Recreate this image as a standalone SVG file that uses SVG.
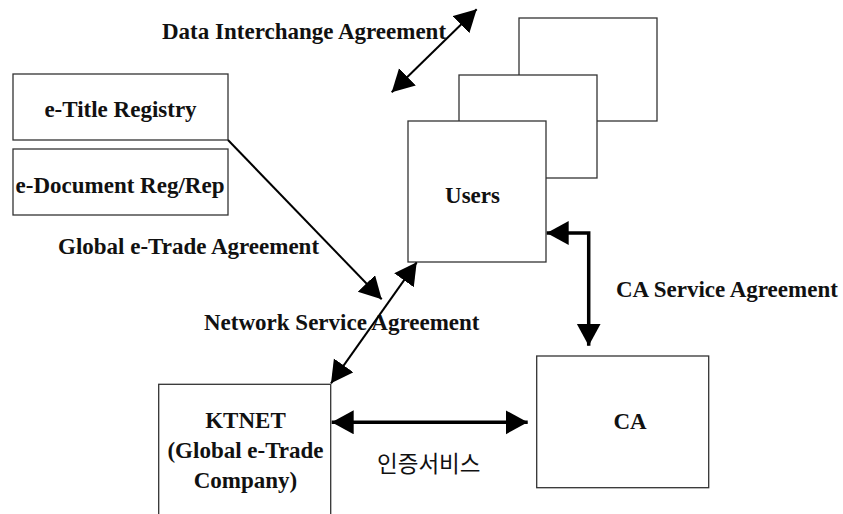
<svg xmlns="http://www.w3.org/2000/svg" width="843" height="514" viewBox="0 0 843 514">
<style>
.box{fill:#fff;stroke:#333;stroke-width:1.3}
.t{font-family:"Liberation Serif","Times New Roman",serif;font-weight:bold;font-size:23px;fill:#111}
.k{font-family:"Noto Sans CJK KR","Noto Sans",sans-serif;font-size:22.5px;fill:#111}
.c{fill:none;stroke:#000}
.thin{stroke-width:2}
.thick{stroke-width:3.5}
</style>
<defs>
<marker id="ah" markerUnits="userSpaceOnUse" markerWidth="26" markerHeight="26" refX="22" refY="12" orient="auto-start-reverse" viewBox="0 0 26 26">
<path d="M0,0 L22,12 L0,24 z" fill="#000"/>
</marker>
</defs>
<rect width="843" height="514" fill="#fff"/>
<g id="etitle"><rect class="box" x="13" y="74" width="215" height="66"/><text class="t" x="120.5" y="116.5" text-anchor="middle">e-Title Registry</text></g>
<g id="edoc"><rect class="box" x="13" y="149" width="215" height="66"/><text class="t" x="120" y="192.5" text-anchor="middle">e-Document Reg/Rep</text></g>
<g id="users">
<rect class="box" x="519" y="18" width="138" height="103"/>
<rect class="box" x="459" y="75" width="138" height="103"/>
<rect class="box" x="408" y="121" width="138" height="141"/>
<text class="t" x="472.5" y="203" text-anchor="middle">Users</text>
</g>
<g id="ktnet"><rect class="box" x="158.7" y="384.3" width="172" height="150"/>
<text class="t" x="245.5" y="428.3" text-anchor="middle">KTNET</text>
<text class="t" x="245.5" y="458.3" text-anchor="middle">(Global e-Trade</text>
<text class="t" x="245.5" y="488.3" text-anchor="middle">Company)</text></g>
<g id="ca"><rect class="box" x="536.7" y="356" width="172" height="131.7"/><text class="t" x="630" y="429" text-anchor="middle">CA</text></g>
<g id="labels">
<text class="t" x="162" y="39">Data Interchange Agreement</text>
<text class="t" x="58" y="254">Global e-Trade Agreement</text>
<text class="t" x="204" y="330">Network Service Agreement</text>
<text class="t" x="616" y="297">CA Service Agreement</text>
<text class="k" x="377" y="472">인증서비스</text>
</g>
<g id="connectors">
<line class="c thin" x1="391.7" y1="92.3" x2="476.7" y2="9.3" marker-start="url(#ah)" marker-end="url(#ah)"/>
<line class="c thin" x1="228" y1="140" x2="381.7" y2="299.3" marker-end="url(#ah)"/>
<line class="c thin" x1="331" y1="383.3" x2="416.7" y2="262.3" marker-start="url(#ah)" marker-end="url(#ah)"/>
<path class="c thick" d="M546.7,233 H588.7 V345.7" marker-start="url(#ah)" marker-end="url(#ah)"/>
<line class="c thick" x1="331.7" y1="422.3" x2="527.7" y2="422.3" marker-start="url(#ah)" marker-end="url(#ah)"/>
</g>
</svg>
